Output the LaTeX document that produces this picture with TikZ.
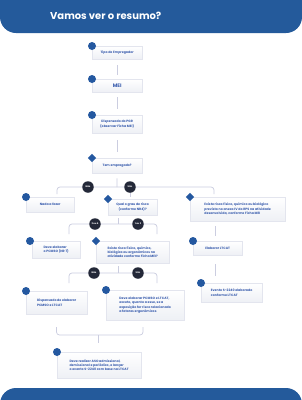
\documentclass[tikz,border=0pt]{standalone}
\usepackage{fontspec}
\setmainfont{Poppins}
\usetikzlibrary{shapes.geometric,shadows,calc}
\definecolor{bannerblue}{HTML}{245A9B}
\definecolor{mkblue}{HTML}{2458A0}
\definecolor{txtblue}{HTML}{3B5EAE}
\definecolor{badgedark}{HTML}{232838}
\definecolor{connc}{HTML}{CBCDE0}
\definecolor{boxbot}{HTML}{EEF0F5}
\definecolor{boxedge}{HTML}{E3E5EE}
\begin{document}
\begin{tikzpicture}[x=1pt,y=-1pt,
  bx/.style={anchor=north west, draw=boxedge, line width=0.3pt, top color=white, bottom color=boxbot,
    inner xsep=4pt, inner ysep=1pt, font=\fontsize{3.2}{4.4}\selectfont\bfseries, text=txtblue,
    drop shadow={shadow xshift=0pt, shadow yshift=-1.2pt, opacity=0.12, fill=black}},
  dot/.style={circle, fill=mkblue, minimum size=8pt, inner sep=0pt},
  dia/.style={diamond, fill=mkblue, minimum size=8.5pt, inner sep=0pt},
  badge/.style={circle, fill=badgedark, minimum size=11.5pt, inner sep=0pt, text=white,
    font=\fontsize{2.3}{2.5}\selectfont\bfseries},
  conn/.style={draw=connc, line width=0.7pt},
  brk/.style={conn, rounded corners=3pt}]
\useasboundingbox (0,0) rectangle (302,400);
\fill[white] (0,0) rectangle (302,400);
% banners
\fill[bannerblue, rounded corners=16pt] (0,-40) rectangle (302,33);
\fill[bannerblue, rounded corners=16pt] (0,388) rectangle (302,440);
\node[anchor=west, font=\fontsize{10}{12}\selectfont\bfseries, text=white, inner sep=0pt] (title) at (50,16) {Vamos ver o resumo?};

% boxes
\node[bx, minimum width=50pt, minimum height=13pt, align=center] (n1) at (92,46) {Tipo de Empregador};
\node[bx, minimum width=50pt, minimum height=13pt, align=center, font=\fontsize{5}{6}\selectfont\bfseries] (n2) at (92,79) {MEI};
\node[bx, minimum width=50pt, minimum height=18pt, align=center] (n3) at (92,115) {Dispensado do PGR\\(observar Ficha MEI)};
\node[bx, minimum width=50pt, minimum height=15pt, align=center] (n4) at (92,158) {Tem empregado?};
\node[bx, minimum width=48pt, minimum height=15pt, align=center] (n5) at (26,197) {Nada a fazer};
\node[bx, minimum width=49pt, minimum height=16pt, align=center] (n6) at (108,199) {Qual o grau de risco\\(conforme NR4)?};
\node[bx, minimum width=95pt, minimum height=24pt, align=left] (n7) at (190,197) {Existe risco físico, químico ou biológico\\previsto no anexo IV do RPS na atividade\\desenvolvida, conforme Ficha MEI};
\node[bx, minimum width=49pt, minimum height=14pt, align=center] (n8) at (193,241) {Elaborar LTCAT};
\node[bx, minimum width=61pt, minimum height=19pt, align=left] (n9) at (201,283) {Evento S-2240 elaborado\\conforme LTCAT};
\node[bx, minimum width=48pt, minimum height=17pt, align=left] (n10) at (32,241) {Deve elaborar\\o PCMSO (NR 7)};
\node[bx, minimum width=73pt, minimum height=22pt, align=left] (n11) at (96,241) {Existe risco físico, químico,\\biológico ou ergonômicos na\\atividade conforme Ficha MEI?};
\node[bx, minimum width=61pt, minimum height=23pt, align=left] (n12) at (26,291) {Dispensado de elaborar\\PCMSO e LTCAT};
\node[bx, minimum width=78pt, minimum height=30pt, align=left] (n13) at (106,290) {Deve elaborar PCMSO e LTCAT,\\exceto, quanto a esse, se a\\exposição for risco relacionado\\a fatores ergonômicos};
\node[bx, minimum width=84pt, minimum height=26pt, align=left] (n14) at (57,352) {Deve realizar ASO admissional,\\demissional e periódico, e lançar\\o evento S-2240 com base na LTCAT};

% markers
\node[dot] (m1) at (n1.north west) {};
\node[dot] (m2) at (n2.north west) {};
\node[dot] (m3) at (n3.north west) {};
\node[dia] (m4) at (n4.north west) {};
\node[dot] (m5) at (n5.north west) {};
\node[dia] (m6) at (n6.north west) {};
\node[dia] (m7) at (n7.north west) {};
\node[dot] (m8) at (n8.north west) {};
\node[dot] (m9) at (n9.north west) {};
\node[dot] (m10) at ($(n10.north west)+(-2,0)$) {};
\node[dia] (m11) at (n11.north west) {};
\node[dot] (m12) at (n12.north west) {};
\node[dot] (m13) at (n13.north west) {};
\node[dot] (m14) at (n14.north west) {};

% straight connectors
\draw[conn, shorten <=6pt, shorten >=4pt] (n1) -- (n2);
\draw[conn, shorten <=5pt, shorten >=6pt] (n2) -- (n3);
\draw[conn, shorten <=7pt, shorten >=6pt] (n3) -- (n4);

% branch 1
\coordinate (j1) at (117,187);
\coordinate (l1) at (57,194);
\coordinate (r1) at (214,194);
\draw[conn, shorten <=5pt] (n4.south) -- (j1);
\draw[brk] (l1) -- (l1 |- j1) -- (r1 |- j1) -- (r1);
\coordinate (c6) at (130,187);
\draw[conn, shorten >=2pt] (c6) -- (c6 |- n6.north);
\node[badge] (b1) at (88,187) {Não};
\node[badge] (b2) at (c6) {Sim};

% branch 2
\coordinate (j2) at (118,224);
\coordinate (l2) at (69,234);
\coordinate (r2) at (157,234);
\draw[conn, shorten <=3pt] (j2 |- n6.south) -- (j2);
\draw[brk] (l2) -- (l2 |- j2) -- (r2 |- j2) -- (r2);
\node[badge] (b3) at (95,224) {3 ou 4};
\node[badge] (b4) at (138,224) {1 ou 2};

% branch 3
\coordinate (j3) at (118,273);
\coordinate (l3) at (69,283);
\coordinate (r3) at (157,283);
\draw[conn, shorten <=3pt] (j3 |- n11.south) -- (j3);
\draw[brk] (l3) -- (l3 |- j3) -- (r3 |- j3) -- (r3);
\node[badge] (b5) at (94,273) {Não};
\node[badge] (b6) at (138,273) {Sim};

% right column
\draw[conn] ($(n7.south west)+(25,5)$) -- ($(n8.north west)+(22,-5)$);
\draw[conn] ($(n8.south west)+(22,9)$) -- ($(n9.north west)+(14,-7)$);

% merge
\coordinate (k1) at (56.5,327);
\coordinate (k2) at (143,327);
\coordinate (j4) at (98,335);
\draw[brk] (k1) -- (k1 |- j4) -- (k2 |- j4) -- (k2);
\draw[conn, shorten >=9pt] (j4) -- (j4 |- n14.north);
\end{tikzpicture}
\end{document}
